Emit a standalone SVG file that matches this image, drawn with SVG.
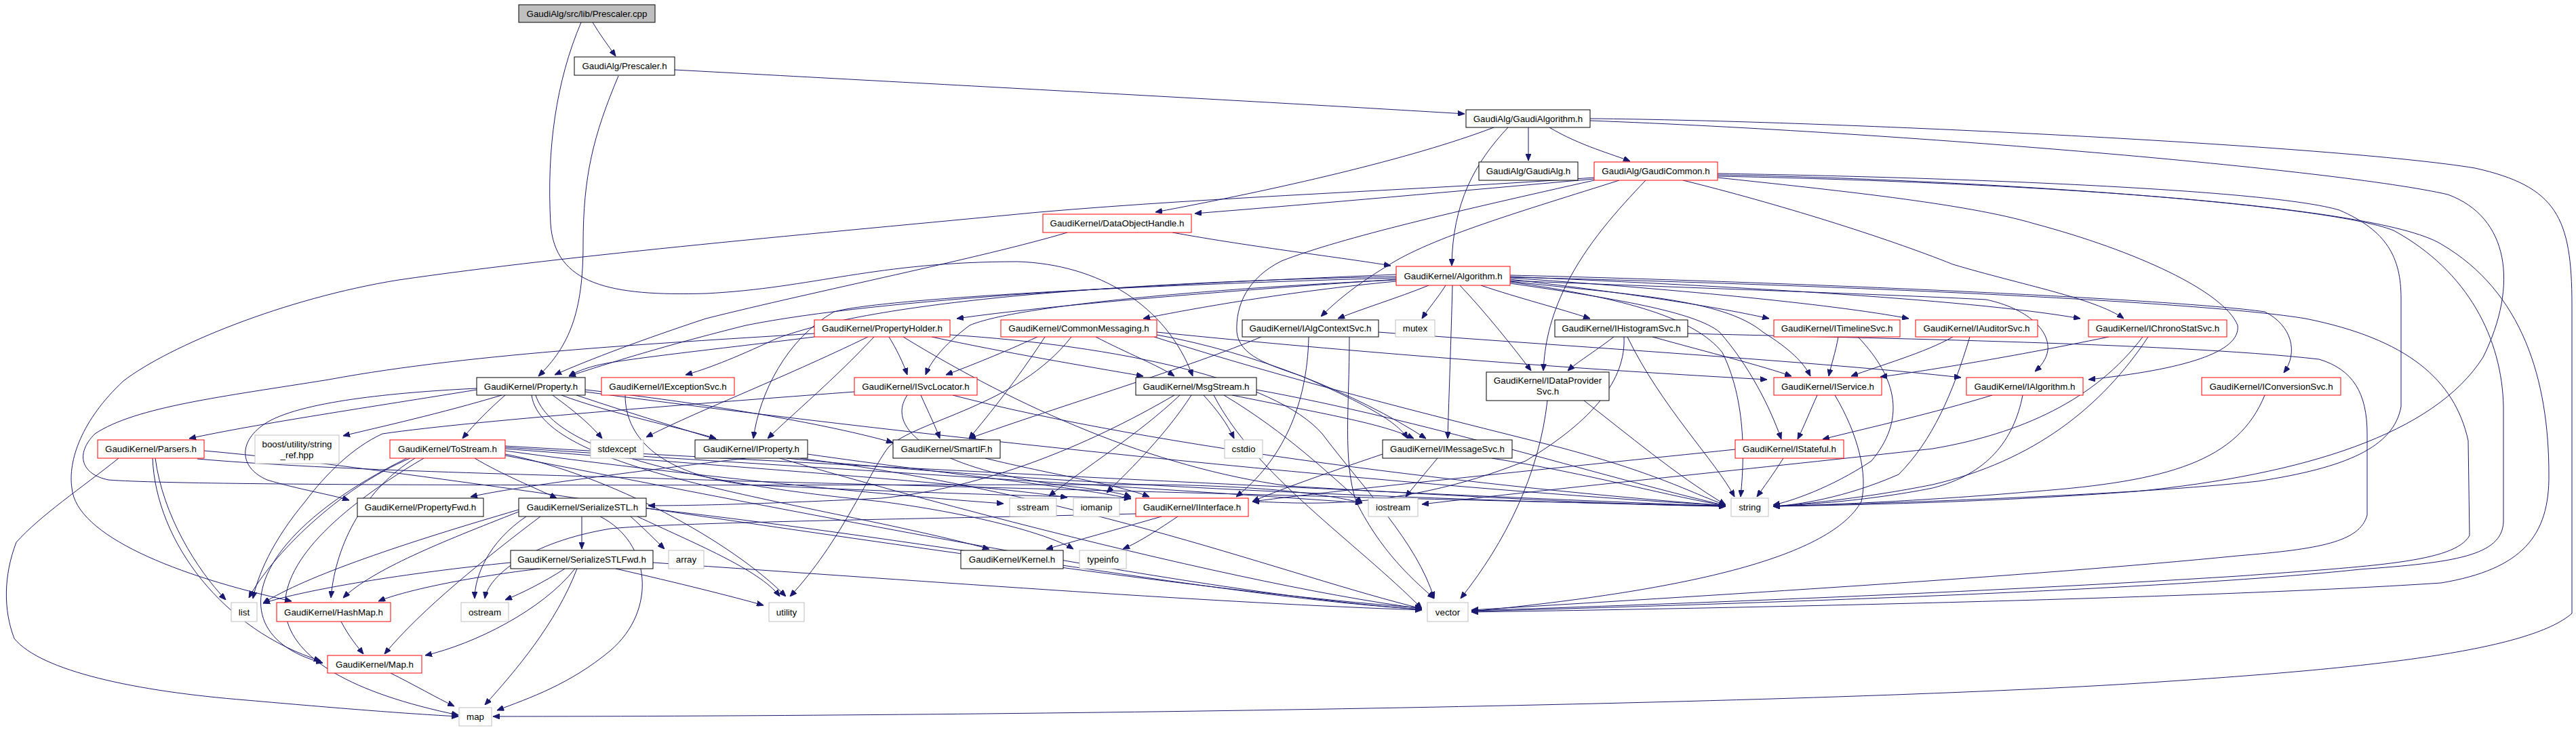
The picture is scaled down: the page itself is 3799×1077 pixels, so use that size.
<svg xmlns="http://www.w3.org/2000/svg" width="3799" height="1077" viewBox="0 0 3799 1077">
<defs>
<marker id="a" markerWidth="10" markerHeight="8" refX="10" refY="4" orient="auto" markerUnits="userSpaceOnUse"><path d="M0,0 L10,4 L0,8 z" fill="#191970" stroke="#191970" stroke-width="1"/></marker>
<style>
rect{fill:#fff;stroke:#000;stroke-width:1}
.r rect{stroke:#ff0000}
.g rect{stroke:#bfbfbf}
.root rect{fill:#bfbfbf}
text{font-family:"Liberation Sans",Arial,Helvetica,sans-serif;font-size:13.33px;text-anchor:middle;fill:#000}
#edges path{fill:none;stroke:#191970;stroke-width:1;marker-end:url(#a)}
</style>
</defs>
<rect x="0" y="0" width="3799" height="1077" style="fill:#fff;stroke:none"/>
<g id="edges">
<path d="M874,33 C884,50 896,66 908,83"/>
<path d="M857,33 C820,120 806,220 812,330 C818,420 900,437 1041,433 C1200,425 1290,386 1501,386 C1620,390 1720,450 1759,555"/>
<path d="M995,103 C1400,125 1900,152 2160,168"/>
<path d="M912,112 C875,200 860,260 860,360 C860,460 840,510 794,555"/>
<path d="M2254,188 L2254,237"/>
<path d="M2285,188 C2330,215 2380,228 2404,238"/>
<path d="M2203,188 C2080,235 1880,280 1704,313"/>
<path d="M2224,188 C2175,240 2142,300 2141,392"/>
<path d="M2345,175 C2700,178 3450,215 3650,248 C3770,275 3793,320 3793,450 L3793,905 C3730,960 3500,985 3200,1005 C2700,1040 1500,1057 727,1057"/>
<path d="M2345,178 C2800,195 3450,250 3610,287 C3700,320 3715,420 3662,527 C3590,640 3400,700 3150,725 C2950,740 2750,745 2615,747"/>
<path d="M2351,264 C2150,282 1950,300 1762,315"/>
<path d="M2351,262 C2100,280 1800,290 1532,313 C1200,345 850,375 588,413 C420,440 250,510 182,562 C120,620 100,680 106,720 C112,790 260,850 430,887"/>
<path d="M2388,266 C2250,310 2110,350 2045,393 C2000,420 1970,445 1948,467"/>
<path d="M2427,266 C2385,310 2340,360 2310,420 C2285,470 2278,510 2276,547"/>
<path d="M2351,266 C2155,310 1980,350 1890,385 C1840,410 1822,450 1824,490 C1828,525 1870,538 1920,555 C2000,590 2060,620 2076,647"/>
<path d="M2482,266 C2620,300 2780,350 2880,390 C2980,420 3090,440 3132,470"/>
<path d="M2533,262 C2700,280 2900,300 3000,330 C3150,370 3280,430 3300,480 C3305,520 3220,545 3080,560"/>
<path d="M2533,256 C2900,262 3350,280 3450,310 C3520,340 3541,380 3541,440 L3541,600 C3530,660 3460,690 3330,710 C3150,730 2800,742 2615,747"/>
<path d="M2533,258 C2900,264 3430,300 3530,340 C3640,400 3690,500 3692,600 L3692,770 C3690,820 3620,830 3480,840 C3200,870 2600,890 2170,902"/>
<path d="M2533,260 C2950,268 3500,300 3600,360 C3720,430 3759,560 3759,700 C3760,790 3720,840 3600,860 C3300,880 2700,895 2170,903"/>
<path d="M2107,421 C2060,440 2010,455 1973,470"/>
<path d="M2132,421 C2120,440 2106,456 2097,470"/>
<path d="M2142,421 C2140,500 2137,580 2135,647"/>
<path d="M2153,421 C2190,460 2230,510 2258,547"/>
<path d="M2184,421 C2240,440 2300,455 2345,470"/>
<path d="M2227,412 C2380,430 2520,450 2609,470"/>
<path d="M2227,410 C2450,425 2700,448 2815,470"/>
<path d="M2227,408 C2500,420 2900,440 3068,470"/>
<path d="M2227,414 C2500,425 2800,435 2929,442 C2990,455 3023,487 3020,517 C3018,530 3010,540 3001,548"/>
<path d="M2227,406 C2600,415 3200,440 3340,460 C3380,480 3390,520 3368,550"/>
<path d="M2227,415 C2400,435 2540,440 2600,490 C2640,515 2660,535 2670,555"/>
<path d="M2227,418 C2380,440 2500,460 2536,490 C2580,540 2610,600 2627,648"/>
<path d="M2227,409 C2700,420 3250,445 3400,470 C3550,500 3620,560 3640,650 L3642,790 C3620,830 3500,835 3300,850 C2900,875 2500,890 2170,901"/>
<path d="M2227,416 C2400,440 2500,470 2540,520 C2580,600 2570,700 2567,733"/>
<path d="M1201,497 C1100,510 960,525 900,535 C870,540 850,548 839,555"/>
<path d="M1280,497 C1150,560 1020,610 953,645"/>
<path d="M1289,497 C1230,560 1170,610 1132,647"/>
<path d="M1311,497 C1322,515 1332,535 1338,553"/>
<path d="M1374,497 C1480,520 1600,540 1686,555"/>
<path d="M1332,497 C1500,600 1700,690 1900,717 C2200,735 2400,745 2545,747"/>
<path d="M1401,494 C1650,510 1880,560 1950,640 C2010,720 2090,800 2115,883"/>
<path d="M1201,492 C1000,505 700,520 485,560 C330,585 200,600 140,640 C110,670 120,700 160,708 C300,719 1200,715 1700,715 C1900,717 1980,735 2009,742"/>
<path d="M1530,497 C1480,520 1430,540 1395,553"/>
<path d="M1541,497 C1500,560 1460,610 1429,647"/>
<path d="M1616,497 C1660,520 1710,540 1732,555"/>
<path d="M1706,490 C1900,510 2239,540 2606,560"/>
<path d="M1702,497 C1900,560 2100,610 2300,660 C2450,700 2500,730 2545,745"/>
<path d="M1580,497 C1500,600 1350,620 1310,660 C1280,700 1240,800 1165,880"/>
<path d="M1706,494 C1850,520 2000,580 2103,647"/>
<path d="M1860,497 C1760,540 1560,600 1429,647"/>
<path d="M1930,497 C1928,600 1890,680 1823,733"/>
<path d="M2033,490 C2300,510 2700,535 2892,557"/>
<path d="M1990,497 C1990,600 1980,680 2000,740 C2040,820 2090,860 2115,883"/>
<path d="M2380,497 C2350,520 2325,535 2312,547"/>
<path d="M2437,497 C2520,520 2600,540 2642,555"/>
<path d="M2400,497 C2450,600 2530,680 2558,733"/>
<path d="M2395,497 C2398,560 2350,620 2250,680 C2050,760 1900,740 1847,740"/>
<path d="M2489,492 C2700,498 3200,505 3420,530 C3470,545 3491,580 3491,640 L3491,760 C3480,800 3420,810 3300,820 C3000,850 2500,880 2170,900"/>
<path d="M2711,497 C2707,520 2700,540 2697,555"/>
<path d="M2740,497 C2800,560 2810,620 2760,680 C2700,720 2640,740 2615,745"/>
<path d="M2880,497 C2840,520 2770,540 2730,555"/>
<path d="M2905,497 C2880,580 2850,650 2800,700 C2720,735 2650,745 2615,747"/>
<path d="M3110,497 C2950,530 2820,550 2773,556"/>
<path d="M3168,497 C3100,600 3000,680 2850,715 C2750,735 2650,745 2615,747"/>
<path d="M3160,497 C3090,590 2980,640 2850,662 C2600,690 2300,720 2097,744"/>
<path d="M2680,583 C2670,605 2660,630 2651,648"/>
<path d="M2706,583 C2740,640 2755,700 2745,740 C2700,820 2500,870 2170,902"/>
<path d="M2938,583 C2850,610 2760,630 2688,648"/>
<path d="M2983,583 C2970,650 2930,700 2850,720 C2750,740 2650,745 2615,747"/>
<path d="M3340,583 C3300,680 3200,710 3000,725 C2850,738 2700,745 2615,747"/>
<path d="M2559,663 C2300,690 2000,720 1847,740"/>
<path d="M2630,676 C2615,700 2600,720 2591,733"/>
<path d="M2282,591 C2270,700 2220,800 2154,883"/>
<path d="M2336,591 C2400,640 2470,700 2545,745"/>
<path d="M2039,670 C1950,700 1880,725 1847,740"/>
<path d="M2120,676 C2100,700 2085,718 2073,733"/>
<path d="M2200,676 C2350,700 2450,730 2545,746"/>
<path d="M1817,583 C1950,610 2040,625 2085,647"/>
<path d="M1775,583 C1795,605 1810,625 1820,647"/>
<path d="M1740,583 C1680,640 1600,690 1547,732"/>
<path d="M1757,583 C1720,640 1670,690 1632,727"/>
<path d="M1805,583 C1900,640 1960,700 2009,742"/>
<path d="M1853,575 C2100,620 2350,700 2545,746"/>
<path d="M1790,583 C1850,700 2000,800 2097,898"/>
<path d="M1732,583 C1600,660 1450,720 1300,735 C1100,745 1000,746 956,746"/>
<path d="M1358,583 C1370,610 1380,630 1386,647"/>
<path d="M1260,578 C1100,590 700,620 564,640 C520,660 480,700 450,740 C400,800 380,850 373,883"/>
<path d="M1338,583 C1300,640 1400,700 1600,720 C1640,725 1660,730 1668,733"/>
<path d="M1405,583 C1700,660 2200,720 2545,746"/>
<path d="M922,583 C922,650 980,700 1100,715 C1400,730 1600,733 1668,735"/>
<path d="M1100,676 C900,700 750,720 694,733"/>
<path d="M1191,670 C1400,700 1600,720 1668,736"/>
<path d="M1160,676 C1600,720 2200,740 2545,747"/>
<path d="M1180,676 C1600,730 1900,850 2097,898"/>
<path d="M1453,676 C1550,700 1650,715 1695,733"/>
<path d="M1713,762 C1650,780 1580,800 1543,810"/>
<path d="M1737,762 C1710,780 1680,800 1656,810"/>
<path d="M1675,758 C1400,765 1000,770 900,780 C780,800 720,850 715,883"/>
<path d="M703,575 C550,600 380,625 279,647"/>
<path d="M740,583 C650,610 560,630 506,643"/>
<path d="M745,583 C720,605 700,625 682,647"/>
<path d="M815,583 C845,605 870,625 888,647"/>
<path d="M828,583 C900,610 1000,630 1056,647"/>
<path d="M703,573 C600,578 450,590 394,623 C350,650 352,690 394,708 C440,722 490,730 515,738"/>
<path d="M863,575 C1000,590 1200,620 1317,653"/>
<path d="M784,583 C800,700 1200,740 1459,810"/>
<path d="M790,583 C820,680 1100,720 1300,740 C1450,760 1550,790 1583,810"/>
<path d="M863,578 C1400,650 2100,720 2545,746"/>
<path d="M850,583 C1200,700 1800,860 2097,898"/>
<path d="M175,676 C120,720 60,760 24,800 C5,850 5,900 21,942 C60,990 200,1020 364,1033 C500,1045 600,1053 676,1057"/>
<path d="M229,676 C240,760 290,840 333,885"/>
<path d="M225,676 C230,800 330,930 473,975"/>
<path d="M291,677 C500,695 800,700 1100,710 C1700,725 2200,740 2545,746"/>
<path d="M301,665 C700,700 1600,860 2097,897"/>
<path d="M700,676 C740,700 790,720 821,735"/>
<path d="M605,676 C500,720 400,820 367,882"/>
<path d="M612,676 C540,720 495,800 488,882"/>
<path d="M600,676 C350,800 330,940 476,978"/>
<path d="M625,676 C330,850 360,990 676,1055"/>
<path d="M745,670 C900,700 1080,800 1159,880"/>
<path d="M745,665 C1000,700 1300,730 1480,743"/>
<path d="M745,662 C1100,690 1450,715 1574,734"/>
<path d="M745,660 C1200,690 1700,720 2009,742"/>
<path d="M745,658 C1300,690 2100,730 2545,747"/>
<path d="M745,672 C1200,760 1800,880 2097,899"/>
<path d="M858,762 L858,810"/>
<path d="M765,752 C600,800 450,850 388,890"/>
<path d="M765,755 C650,800 550,840 506,882"/>
<path d="M797,762 C720,820 620,900 567,965"/>
<path d="M776,762 C720,800 700,850 700,883"/>
<path d="M885,762 C960,800 970,900 900,960 C840,1010 780,1030 733,1048"/>
<path d="M930,762 C950,780 970,800 980,810"/>
<path d="M940,762 C1020,800 1120,840 1150,880"/>
<path d="M953,750 C1400,800 1800,880 2097,899"/>
<path d="M753,830 C600,845 450,870 388,890"/>
<path d="M797,839 C700,850 600,870 558,887"/>
<path d="M833,839 C800,860 770,875 745,885"/>
<path d="M848,839 C800,900 700,950 627,967"/>
<path d="M851,839 C820,920 760,990 715,1040"/>
<path d="M908,839 C1000,860 1080,880 1126,893"/>
<path d="M963,830 C1400,860 1800,890 2097,900"/>
<path d="M503,917 C515,940 528,955 536,965"/>
<path d="M576,993 C610,1010 645,1030 670,1042"/>
<path d="M1574,343 C1450,380 1200,430 1041,470 C950,500 870,530 818,553"/>
<path d="M1729,343 C1850,365 1980,380 2051,392"/>
<path d="M2059,405 C1700,420 1300,440 1100,480 C980,510 900,535 839,555"/>
<path d="M2059,412 C1800,430 1550,450 1411,470"/>
<path d="M2059,415 C1900,430 1760,455 1686,470"/>
<path d="M2059,408 C1700,415 1300,440 1144,500 C1080,530 1040,545 1011,553"/>
<path d="M2059,410 C1700,420 1300,440 1230,460 C1160,500 1120,580 1111,647"/>
<path d="M2059,413 C1800,425 1500,450 1430,480 C1390,510 1372,535 1365,553"/>
</g>
<g id="node-prescaler-cpp" class="root"><rect x="765" y="7" width="201" height="26"/><text x="865.5" y="25">GaudiAlg/src/lib/Prescaler.cpp</text></g>
<g id="node-prescaler-h"><rect x="847" y="84" width="148" height="27"/><text x="921" y="102">GaudiAlg/Prescaler.h</text></g>
<g id="node-gaudialgorithm"><rect x="2162" y="162" width="183" height="26"/><text x="2253.5" y="180">GaudiAlg/GaudiAlgorithm.h</text></g>
<g id="node-gaudialg"><rect x="2181" y="239" width="146" height="27"/><text x="2254" y="257">GaudiAlg/GaudiAlg.h</text></g>
<g id="node-gaudicommon" class="r"><rect x="2351" y="239" width="182" height="27"/><text x="2442" y="257">GaudiAlg/GaudiCommon.h</text></g>
<g id="node-dataobjecthandle" class="r"><rect x="1538" y="316" width="219" height="27"/><text x="1647.5" y="334">GaudiKernel/DataObjectHandle.h</text></g>
<g id="node-algorithm" class="r"><rect x="2059" y="393" width="168" height="28"/><text x="2143" y="412">GaudiKernel/Algorithm.h</text></g>
<g id="node-propertyholder" class="r"><rect x="1201" y="472" width="200" height="25"/><text x="1301" y="489">GaudiKernel/PropertyHolder.h</text></g>
<g id="node-commonmessaging" class="r"><rect x="1476" y="472" width="230" height="25"/><text x="1591" y="489">GaudiKernel/CommonMessaging.h</text></g>
<g id="node-ialgcontextsvc"><rect x="1832" y="472" width="201" height="25"/><text x="1932.5" y="489">GaudiKernel/IAlgContextSvc.h</text></g>
<g id="node-mutex" class="g"><rect x="2058" y="472" width="58" height="25"/><text x="2087" y="489">mutex</text></g>
<g id="node-ihistogramsvc"><rect x="2293" y="472" width="196" height="25"/><text x="2391" y="489">GaudiKernel/IHistogramSvc.h</text></g>
<g id="node-itimelinesvc" class="r"><rect x="2616" y="472" width="186" height="25"/><text x="2709" y="489">GaudiKernel/ITimelineSvc.h</text></g>
<g id="node-iauditorsvc" class="r"><rect x="2825" y="472" width="180" height="25"/><text x="2915" y="489">GaudiKernel/IAuditorSvc.h</text></g>
<g id="node-ichronostatsvc" class="r"><rect x="3080" y="472" width="204" height="25"/><text x="3182" y="489">GaudiKernel/IChronoStatSvc.h</text></g>
<g id="node-property"><rect x="703" y="557" width="160" height="26"/><text x="783" y="575">GaudiKernel/Property.h</text></g>
<g id="node-iexceptionsvc" class="r"><rect x="887" y="557" width="196" height="26"/><text x="985" y="575">GaudiKernel/IExceptionSvc.h</text></g>
<g id="node-isvclocator" class="r"><rect x="1260" y="557" width="181" height="26"/><text x="1350.5" y="575">GaudiKernel/ISvcLocator.h</text></g>
<g id="node-msgstream"><rect x="1675" y="557" width="178" height="26"/><text x="1764" y="575">GaudiKernel/MsgStream.h</text></g>
<g id="node-idataprovidersvc"><rect x="2192" y="549" width="181" height="42"/><text x="2282.5" y="566">GaudiKernel/IDataProvider</text><text x="2282.5" y="582">Svc.h</text></g>
<g id="node-iservice" class="r"><rect x="2616" y="557" width="159" height="26"/><text x="2695.5" y="575">GaudiKernel/IService.h</text></g>
<g id="node-ialgorithm" class="r"><rect x="2900" y="557" width="172" height="26"/><text x="2986" y="575">GaudiKernel/IAlgorithm.h</text></g>
<g id="node-iconversionsvc" class="r"><rect x="3247" y="557" width="205" height="26"/><text x="3349.5" y="575">GaudiKernel/IConversionSvc.h</text></g>
<g id="node-parsers" class="r"><rect x="144" y="649" width="157" height="27"/><text x="222.5" y="667">GaudiKernel/Parsers.h</text></g>
<g id="node-string-ref" class="g"><rect x="376" y="642" width="124" height="42"/><text x="438" y="660">boost/utility/string</text><text x="438" y="676">_ref.hpp</text></g>
<g id="node-tostream" class="r"><rect x="575" y="649" width="170" height="27"/><text x="660" y="667">GaudiKernel/ToStream.h</text></g>
<g id="node-stdexcept" class="g"><rect x="871" y="649" width="78" height="27"/><text x="910" y="667">stdexcept</text></g>
<g id="node-iproperty"><rect x="1025" y="649" width="166" height="27"/><text x="1108" y="667">GaudiKernel/IProperty.h</text></g>
<g id="node-smartif"><rect x="1317" y="649" width="158" height="27"/><text x="1396" y="667">GaudiKernel/SmartIF.h</text></g>
<g id="node-cstdio" class="g"><rect x="1806" y="649" width="56" height="27"/><text x="1834" y="667">cstdio</text></g>
<g id="node-imessagesvc"><rect x="2039" y="649" width="191" height="27"/><text x="2134.5" y="667">GaudiKernel/IMessageSvc.h</text></g>
<g id="node-istateful" class="r"><rect x="2559" y="649" width="160" height="27"/><text x="2639" y="667">GaudiKernel/IStateful.h</text></g>
<g id="node-propertyfwd"><rect x="527" y="735" width="186" height="27"/><text x="620" y="753">GaudiKernel/PropertyFwd.h</text></g>
<g id="node-serializestl"><rect x="765" y="735" width="188" height="27"/><text x="859" y="753">GaudiKernel/SerializeSTL.h</text></g>
<g id="node-sstream" class="g"><rect x="1489" y="735" width="69" height="27"/><text x="1523.5" y="753">sstream</text></g>
<g id="node-iomanip" class="g"><rect x="1583" y="735" width="68" height="27"/><text x="1617" y="753">iomanip</text></g>
<g id="node-iinterface" class="r"><rect x="1675" y="735" width="166" height="27"/><text x="1758" y="753">GaudiKernel/IInterface.h</text></g>
<g id="node-iostream" class="g"><rect x="2018" y="735" width="73" height="27"/><text x="2054.5" y="753">iostream</text></g>
<g id="node-string" class="g"><rect x="2553" y="735" width="55" height="27"/><text x="2580.5" y="753">string</text></g>
<g id="node-serializestlfwd"><rect x="753" y="812" width="210" height="27"/><text x="858" y="830">GaudiKernel/SerializeSTLFwd.h</text></g>
<g id="node-array" class="g"><rect x="986" y="812" width="52" height="27"/><text x="1012" y="830">array</text></g>
<g id="node-kernel"><rect x="1417" y="812" width="151" height="27"/><text x="1492.5" y="830">GaudiKernel/Kernel.h</text></g>
<g id="node-typeinfo" class="g"><rect x="1592" y="812" width="69" height="27"/><text x="1626.5" y="830">typeinfo</text></g>
<g id="node-list" class="g"><rect x="341" y="889" width="38" height="28"/><text x="360" y="908">list</text></g>
<g id="node-hashmap" class="r"><rect x="408" y="889" width="168" height="28"/><text x="492" y="908">GaudiKernel/HashMap.h</text></g>
<g id="node-ostream" class="g"><rect x="680" y="889" width="70" height="28"/><text x="715" y="908">ostream</text></g>
<g id="node-utility" class="g"><rect x="1134" y="889" width="52" height="28"/><text x="1160" y="908">utility</text></g>
<g id="node-vector" class="g"><rect x="2105" y="889" width="60" height="28"/><text x="2135" y="908">vector</text></g>
<g id="node-map-h" class="r"><rect x="483" y="967" width="139" height="26"/><text x="552.5" y="985">GaudiKernel/Map.h</text></g>
<g id="node-map" class="g"><rect x="677" y="1044" width="48" height="27"/><text x="701" y="1062">map</text></g>
</svg>
